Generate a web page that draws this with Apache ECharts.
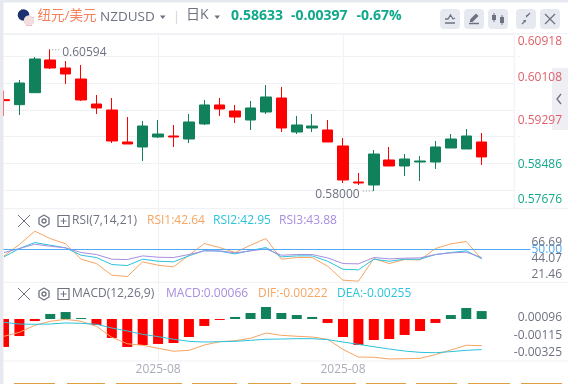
<!DOCTYPE html>
<html>
<head>
<meta charset="utf-8">
<style>
html, body { margin: 0; padding: 0; background: #fff; }
#chart { width: 568px; height: 384px; }
</style>
<script src="https://cdn.jsdelivr.net/npm/echarts@6/dist/echarts.min.js"></script>
</head>
<body>
<div id="chart"></div>
<script>
// 34 bands on the axis, the last two stay empty
const days = ['', '', '', '', '', '', '', '', '', '', '2025-08', '', '', '', '', '', '', '', '', '', '', '', '2025-08', '', '', '', '', '', '', '', '', '', '', '']

const opens = [0.59691, 0.59598, 0.59821, 0.60430, 0.60281, 0.60076, 0.59610, 0.59498, 0.58902, 0.58809, 0.58995, 0.59014, 0.58958, 0.59238, 0.59592, 0.59480, 0.59312, 0.59461, 0.59722, 0.59088, 0.59163, 0.59126, 0.58828, 0.58157, 0.58101, 0.58567, 0.58455, 0.58529, 0.58529, 0.58790, 0.58772, 0.58902]
const closes = [0.59672, 0.60001, 0.60449, 0.60281, 0.60169, 0.59685, 0.59536, 0.58921, 0.58865, 0.59200, 0.59051, 0.58995, 0.59275, 0.59592, 0.59517, 0.59368, 0.59536, 0.59741, 0.59163, 0.59219, 0.59200, 0.58902, 0.58194, 0.58138, 0.58678, 0.58455, 0.58585, 0.58548, 0.58809, 0.58958, 0.59014, 0.58623]
const lows = [0.59387, 0.59405, 0.59821, 0.60262, 0.59983, 0.59666, 0.59424, 0.58883, 0.58865, 0.58548, 0.58977, 0.58809, 0.58883, 0.59219, 0.59387, 0.59256, 0.59126, 0.59424, 0.59088, 0.59051, 0.59088, 0.58902, 0.58138, 0.58101, 0.57989, 0.58455, 0.58269, 0.58175, 0.58399, 0.58790, 0.58772, 0.58474]
const highs = [0.59859, 0.60057, 0.60486, 0.60629, 0.60411, 0.60337, 0.59778, 0.59722, 0.59368, 0.59293, 0.59312, 0.59219, 0.59424, 0.59685, 0.59722, 0.59592, 0.59666, 0.59964, 0.59927, 0.59387, 0.59424, 0.59312, 0.58977, 0.58325, 0.58753, 0.58809, 0.58678, 0.58641, 0.58921, 0.59051, 0.59144, 0.59070]

const priceTicks = [0.57676, 0.58486, 0.59297, 0.60108, 0.60918]

const rsi1 = [45.12, 53.80, 64.00, 58.39, 54.31, 42.57, 39.26, 30.33, 29.31, 40.53, 37.98, 36.71, 45.63, 54.56, 51.50, 47.67, 53.29, 58.39, 42.57, 43.85, 43.85, 37.22, 26.51, 25.74, 43.08, 39.26, 42.32, 42.06, 50.73, 54.31, 56.09, 42.64]
const rsi2 = [44.36, 50.73, 55.33, 53.29, 51.25, 45.63, 43.85, 38.49, 37.73, 42.57, 41.04, 40.53, 45.12, 49.20, 48.69, 46.65, 49.20, 51.50, 44.36, 45.12, 45.12, 41.04, 34.92, 34.41, 42.57, 41.04, 42.57, 42.57, 46.14, 47.67, 48.95, 42.95]
const rsi3 = [47.67, 50.73, 54.05, 52.52, 51.25, 47.67, 46.14, 42.57, 42.32, 45.12, 44.10, 43.85, 46.14, 48.95, 48.95, 47.42, 48.95, 50.48, 45.63, 46.14, 46.14, 43.59, 39.26, 39.00, 43.85, 42.83, 43.34, 43.59, 46.14, 47.42, 47.93, 43.88]
const rsiMid = 50
const rsiTicks = [21.46, 44.07, 66.69]

const macdBars = [-0.00233, -0.00142, -0.00017, 0.00042, 0.00058, 0.00008, -0.00050, -0.00158, -0.00233, -0.00217, -0.00208, -0.00200, -0.00150, -0.00058, -0.00008, 0.00017, 0.00050, 0.00100, 0.00050, 0.00033, 0.00017, -0.00033, -0.00150, -0.00217, -0.00175, -0.00167, -0.00133, -0.00100, -0.00033, 0.00033, 0.00092, 0.00066]
const dif = [-0.00144, -0.00111, -0.00053, -0.00019, -0.00003, -0.00019, -0.00061, -0.00153, -0.00206, -0.00219, -0.00244, -0.00269, -0.00261, -0.00217, -0.00189, -0.00181, -0.00161, -0.00117, -0.00136, -0.00144, -0.00150, -0.00169, -0.00253, -0.00317, -0.00319, -0.00333, -0.00331, -0.00328, -0.00297, -0.00258, -0.00219, -0.00222]
const dea = [-0.00028, -0.00042, -0.00044, -0.00042, -0.00033, -0.00036, -0.00044, -0.00075, -0.00100, -0.00128, -0.00147, -0.00169, -0.00186, -0.00192, -0.00189, -0.00186, -0.00178, -0.00169, -0.00167, -0.00164, -0.00164, -0.00172, -0.00192, -0.00211, -0.00231, -0.00250, -0.00267, -0.00278, -0.00281, -0.00272, -0.00261, -0.00255]
const macdTicks = [-0.00325, -0.00115, 0.00096]

const UP = '#10815a', DOWN = '#ff0000'
const ORANGE = '#f6a562', CYAN = '#2cc3dc', PURPLE = '#a88ee0', BLUE = '#4fa9f7'
const GRAY = '#6e7280', FAINT = '#f1f2f6', RED_LABEL = '#e0606a', GREEN_LABEL = '#12a88c'
const FONT = '"Open Sans", "Noto Sans CJK SC", sans-serif'

// icons and header are plain decoration, not data
function txt(x, y, text, fill, size, weight) {
  return { type: 'text', z: 60, silent: true, style: { x: x, y: y, text: text, fill: fill, font: (weight || 'normal') + ' ' + (size || 12) + 'px ' + FONT, textVerticalAlign: 'middle' } }
}
function ln(x1, y1, x2, y2, color, w, dash) {
  return { type: 'line', z: 60, silent: true, shape: { x1: x1, y1: y1, x2: x2, y2: y2 }, style: { stroke: color, lineWidth: w || 1, lineDash: dash } }
}
function box(x, y, w, h, fill, r, z) {
  return { type: 'rect', z: z || 60, silent: true, shape: { x: x, y: y, width: w, height: h, r: r || 0 }, style: { fill: fill } }
}
function poly(points, fill, stroke) {
  return { type: stroke ? 'polyline' : 'polygon', z: 61, silent: true, shape: { points: points }, style: stroke ? { stroke: stroke, fill: 'none', lineWidth: 1.3 } : { fill: fill } }
}
function circle(cx, cy, r, fill, stroke) {
  return { type: 'circle', z: 61, silent: true, shape: { cx: cx, cy: cy, r: r }, style: { fill: fill, stroke: stroke, lineWidth: 1.3 } }
}
function paneTools(y) {
  const hexR = 5.5
  return [
    ln(18, y - 6, 30, y + 6, GRAY), ln(30, y - 6, 18, y + 6, GRAY),
    poly([[44, y - hexR - 0.5], [49, y - 3], [49, y + 3], [44, y + hexR + 0.5], [39, y + 3], [39, y - 3], [44, y - hexR - 0.5]], null, GRAY),
    circle(44, y, 2, 'none', GRAY),
    { type: 'rect', z: 61, silent: true, shape: { x: 58, y: y - 5.5, width: 11, height: 11 }, style: { fill: 'none', stroke: GRAY, lineWidth: 1.2 } },
    ln(60.5, y, 66.5, y, GRAY), ln(63.5, y - 3, 63.5, y + 3, GRAY)
  ]
}

const decor = [
  // panel lines
  ln(4, 33.5, 568, 33.5, FAINT, 1.2), ln(4, 208.7, 568, 208.7, FAINT, 1.2), ln(4, 282.3, 568, 282.3, FAINT, 1.2), ln(4, 361, 568, 361, FAINT, 1.2),
  box(514.5, 34, 3, 174, '#fff', 0, 5),
  ln(514.3, 33, 514.3, 209, FAINT, 1.2),
  box(0, 0, 3.5, 384, '#e6e9f0', 0, 50),
  box(0, 0, 568, 2.5, '#e6e9f0', 0, 50),
  // flags
  circle(23.5, 15, 5.8, '#1c2f6e'), box(19, 11.5, 5, 1.4, '#c9414f'), box(21, 9.5, 1.3, 5, '#c9414f'),
  circle(29, 20.5, 5.2, '#f2dede'),
  box(24.5, 17, 9, 1.2, '#d2515a'), box(24, 19.5, 10, 1.2, '#d2515a'), box(24.5, 22, 9, 1.2, '#d2515a'), box(26, 24.5, 6, 1, '#d2515a'),
  box(24.5, 16.2, 4, 3.2, '#3e4f8f'),
  // header text
  txt(37.5, 16, '纽元/美元', '#f5815a', 13.5),
  txt(100, 17, 'NZDUSD', GRAY, 13.5),
  poly([[160, 15.5], [165.5, 15.5], [162.7, 19]], GRAY),
  ln(176.5, 11, 176.5, 24, '#d9dbe3', 1.2),
  txt(186, 15.5, '日K', GRAY, 14),
  poly([[214.5, 15.5], [220, 15.5], [217.2, 19]], GRAY),
  txt(231, 16, '0.58633', GREEN_LABEL, 14, 'bold'),
  txt(291, 16, '-0.00397', GREEN_LABEL, 14, 'bold'),
  txt(356.5, 16, '-0.67%', GREEN_LABEL, 14, 'bold'),
  // header buttons
  box(440, 9, 20, 20, '#e7e9f1', 4), box(464, 9, 20, 20, '#e7e9f1', 4), box(488, 9, 20, 20, '#e7e9f1', 4), box(516, 9, 20, 20, '#e7e9f1', 4), box(540, 9, 20, 20, '#e7e9f1', 4),
  poly([[445, 19], [448, 19], [450.5, 15], [453, 19], [455, 18]], null, GRAY), ln(445, 23, 455, 23, GRAY, 1.5),
  poly([[470, 22], [470, 19.5], [476, 13.5], [478.5, 16], [472.5, 22]], GRAY), ln(469, 23.5, 479, 23.5, GRAY, 1.5),
  ln(494, 13, 494, 22, GRAY), box(492, 15, 4, 5, GRAY, 0, 61), ln(502, 15, 502, 25, GRAY), box(500, 17, 4, 6, GRAY, 0, 61),
  poly([[530, 13], [527, 16]], null, GRAY), poly([[528.5, 15], [526, 15], [526, 18], [528.5, 15]], GRAY),
  poly([[522, 24], [525, 21]], null, GRAY), poly([[525.5, 22.5], [523, 20], [526, 20], [525.5, 22.5]], GRAY),
  ln(545, 14, 555, 24, GRAY, 1.3), ln(555, 14, 545, 24, GRAY, 1.3),
  // side handle sits behind the price labels
  box(552, 68, 16, 62, '#eeeef4', 0, -1),
  poly([[561, 94], [557, 99], [561, 104]], null, GRAY),
  // bottom strip, tops of the cropped row below
  box(14, 383, 41, 1, '#e0a040'), box(67, 383, 38, 1, '#e0a040'), box(116, 383, 66, 1, '#e0a040'), box(192, 383, 45, 1, '#e0a040'), box(248, 383, 43, 1, '#e0a040'),
  box(301, 383, 55, 1, '#e0a040'), box(366, 383, 40, 1, '#e0a040'), box(416, 383, 41, 1, '#e0a040'), box(468, 383, 42, 1, '#e0a040'), box(521, 383, 41, 1, '#e0a040')
].concat(paneTools(221), paneTools(294), [
  txt(72, 221, 'RSI(7,14,21)', GRAY), txt(147, 221, 'RSI1:42.64', ORANGE), txt(213, 221, 'RSI2:42.95', CYAN), txt(279, 221, 'RSI3:43.88', PURPLE),
  txt(72, 294, 'MACD(12,26,9)', GRAY), txt(166, 294, 'MACD:0.00066', PURPLE), txt(258, 294, 'DIF:-0.00222', ORANGE), txt(337, 294, 'DEA:-0.00255', CYAN)
])

function xAxisFor(gridIndex, showLabel) {
  return {
    type: 'category', gridIndex: gridIndex, data: days, boundaryGap: true,
    axisLine: { show: false }, axisTick: { show: false },
    axisLabel: { show: showLabel, interval: function (i) { return days[i] !== '' }, color: '#a9acba', fontSize: 12, fontFamily: FONT, margin: 3 },
    splitLine: { show: true, alignWithLabel: true, interval: function (i) { return days[i] !== '' }, lineStyle: { color: FAINT, width: 1.2 } }
  }
}
function pulledLine(name, values, color, xi, yi) {
  return { name: name, type: 'line', xAxisIndex: xi, yAxisIndex: yi, data: values, symbol: 'none', lineStyle: { color: color, width: 1 }, silent: true, animation: false }
}
const quiet = { axisLine: { show: false }, axisTick: { show: false }, splitLine: { show: false } }
const RIGHT_EDGE_MARGIN = 41.8

const option = {
  animation: false,
  backgroundColor: '#fff',
  graphic: decor,
  grid: [
    { left: -3.7, width: 523.9, top: 33.8, height: 174, outerBoundsMode: 'none' },
    { left: -3.7, width: 523.9, top: 209, height: 73, outerBoundsMode: 'none' },
    { left: -3.7, width: 523.9, top: 282, height: 79, outerBoundsMode: 'none' }
  ],
  xAxis: [xAxisFor(0, false), xAxisFor(1, false), xAxisFor(2, true)],
  yAxis: [
    Object.assign({}, quiet, {
      type: 'value', gridIndex: 0, position: 'right', min: 0.57676, max: 0.60918,
      splitLine: { show: true, lineStyle: { color: FAINT, width: 1.2 } },
      axisLabel: {
        customValues: priceTicks, margin: RIGHT_EDGE_MARGIN, align: 'right', fontSize: 12, fontFamily: FONT, lineHeight: 16,
        verticalAlignMinLabel: 'bottom', verticalAlignMaxLabel: 'top',
        formatter: function (v) { return v.toFixed(5) },
        color: function (v) { return v > 0.5885 ? RED_LABEL : GREEN_LABEL }
      }
    }),
    // data scale of the RSI pane
    Object.assign({}, quiet, {
      type: 'value', gridIndex: 1, position: 'right', min: 25.13, max: 80.99,
      axisLabel: { customValues: [rsiMid], margin: RIGHT_EDGE_MARGIN, align: 'right', fontSize: 12, fontFamily: FONT, color: BLUE, formatter: function (v) { return v.toFixed(2) } }
    }),
    // printed labels in the picture sit on their own scale
    Object.assign({}, quiet, {
      type: 'value', gridIndex: 1, position: 'right', min: 10.55, max: 113.8,
      axisLabel: { customValues: rsiTicks, margin: RIGHT_EDGE_MARGIN, align: 'right', fontSize: 12, fontFamily: FONT, color: GRAY, formatter: function (v) { return v.toFixed(2) } }
    }),
    Object.assign({}, quiet, {
      type: 'value', gridIndex: 2, position: 'right', min: -0.0035, max: 0.003083,
      axisLabel: { show: false }
    }),
    Object.assign({}, quiet, {
      type: 'value', gridIndex: 2, position: 'right', min: -0.00421, max: 0.00526,
      axisLabel: { customValues: macdTicks, margin: RIGHT_EDGE_MARGIN, align: 'right', fontSize: 12, fontFamily: FONT, color: GRAY, formatter: function (v) { return v.toFixed(5) } }
    })
  ],
  series: [
    {
      name: 'NZDUSD', type: 'candlestick', xAxisIndex: 0, yAxisIndex: 0, barWidth: 11, silent: true,
      data: opens.map(function (o, i) { return [o, closes[i], lows[i], highs[i]] }),
      itemStyle: { color: UP, color0: DOWN, borderColor: UP, borderColor0: DOWN, borderWidth: 1 },
      markPoint: {
        symbol: 'rect', symbolSize: 1, silent: true, itemStyle: { color: 'transparent' },
        data: [
          { coord: [3, highs[3]], label: { formatter: '0.60594', position: [12.5, -2] } },
          { coord: [24, lows[24]], label: { formatter: '0.58000', position: [-58, -1.5] } }
        ],
        label: { color: GRAY, fontSize: 12, fontFamily: FONT }
      }
    },
    pulledLine('RSI1', rsi1, ORANGE, 1, 1),
    pulledLine('RSI2', rsi2, CYAN, 1, 1),
    pulledLine('RSI3', rsi3, PURPLE, 1, 1),
    {
      name: 'RSI mid', type: 'line', xAxisIndex: 1, yAxisIndex: 1, data: [], silent: true,
      markLine: { silent: true, symbol: 'none', label: { show: false }, lineStyle: { color: BLUE, width: 1, type: 'solid' }, data: [{ yAxis: rsiMid }] }
    },
    {
      name: 'MACD', type: 'bar', xAxisIndex: 2, yAxisIndex: 3, barWidth: 10, silent: true,
      data: macdBars.map(function (v) { return { value: v, itemStyle: { color: v >= 0 ? UP : DOWN } } })
    },
    pulledLine('DIF', dif, ORANGE, 2, 3),
    pulledLine('DEA', dea, CYAN, 2, 3)
  ]
}

const myChart = echarts.init(document.getElementById('chart'), null, { renderer: 'canvas' })
myChart.setOption(option)

// bits that hang off the scales: dotted leaders of high/low, tail of the 50 line
const hi = myChart.convertToPixel({ xAxisIndex: 0, yAxisIndex: 0 }, [3, highs[3]])
const lo = myChart.convertToPixel({ xAxisIndex: 0, yAxisIndex: 0 }, [24, lows[24]])
const midY = myChart.convertToPixel({ yAxisIndex: 1 }, rsiMid)
option.graphic = decor.concat([
  ln(hi[0] + 2, hi[1] + 0.5, hi[0] + 10, hi[1] + 0.5, '#8a8d99', 1, [1, 2]),
  ln(lo[0] - 11, lo[1], lo[0] - 1, lo[1], '#8a8d99', 1, [1, 2]),
  ln(520, midY, 530.5, midY, BLUE, 1)
])
myChart.setOption(option, true)
</script>
</body>
</html>
